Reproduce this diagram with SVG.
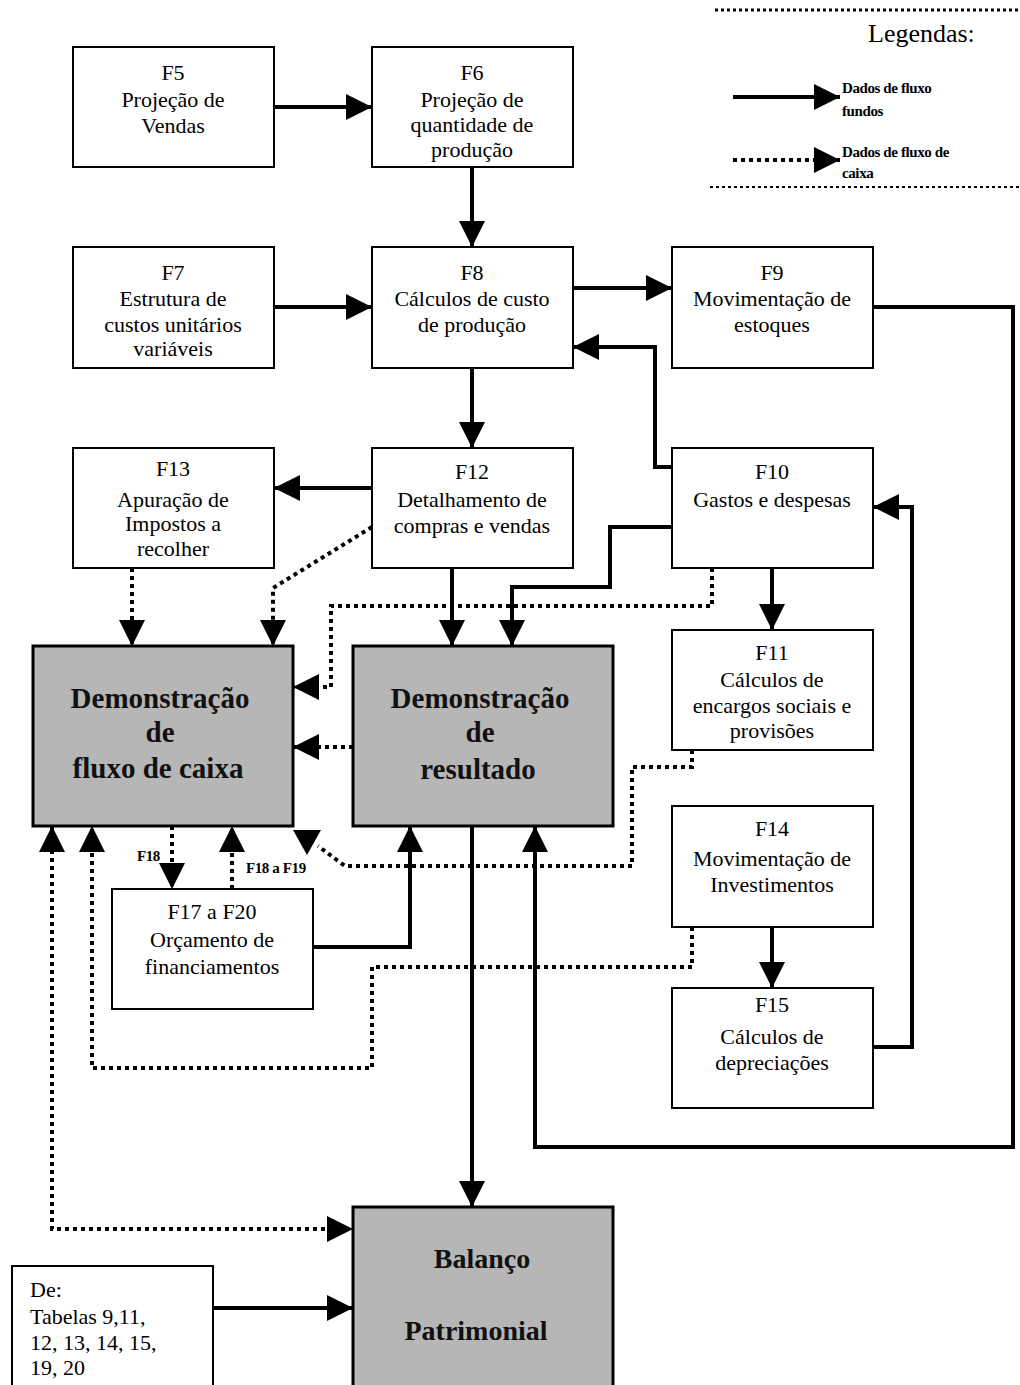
<svg xmlns="http://www.w3.org/2000/svg" width="1020" height="1385" viewBox="0 0 1020 1385">
<style>
.box{fill:#fff;stroke:#000;stroke-width:2}
.gbox{fill:#b6b6b6;stroke:#000;stroke-width:3}
.t{font-family:"Liberation Serif","Times New Roman",serif;font-size:22px;fill:#000;text-anchor:middle}
.b{font-family:"Liberation Serif","Times New Roman",serif;font-size:29px;font-weight:bold;fill:#111;text-anchor:middle}
.bp{font-family:"Liberation Serif","Times New Roman",serif;font-size:28px;font-weight:bold;fill:#111;text-anchor:middle}
.l{font-family:"Liberation Serif","Times New Roman",serif;font-size:22px;fill:#000}
.s{font-family:"Liberation Serif","Times New Roman",serif;font-size:15px;font-weight:bold;letter-spacing:-0.4px;fill:#000}
.sol{fill:none;stroke:#000;stroke-width:4}
.dot{fill:none;stroke:#000;stroke-width:4;stroke-dasharray:4 4}
</style>
<defs>
<marker id="ah" markerUnits="userSpaceOnUse" markerWidth="26" markerHeight="26" refX="24" refY="12" orient="auto-start-reverse" viewBox="0 0 24 24">
<path d="M0,0 L24,12 L0,24 Z" fill="#000"/>
</marker>
</defs>

<line x1="715" y1="10" x2="1020" y2="10" stroke="#000" stroke-width="3" stroke-dasharray="3 3"/>

<g id="legend">
<text x="868" y="42" style="font-family:'Liberation Serif',serif;font-size:26px">Legendas:</text>
<line x1="733" y1="97" x2="840" y2="97" class="sol" marker-end="url(#ah)"/>
<text x="842" y="93" class="s">Dados de fluxo</text>
<text x="842" y="116" class="s">fundos</text>
<line x1="733" y1="160" x2="840" y2="160" class="dot" marker-end="url(#ah)"/>
<text x="842" y="157" class="s">Dados de fluxo de</text>
<text x="842" y="178" class="s">caixa</text>
<line x1="710" y1="187" x2="1020" y2="187" stroke="#000" stroke-width="2" stroke-dasharray="3 3"/>
</g>

<g id="connectors">
<path class="sol" d="M274,107 H372" marker-end="url(#ah)"/>
<path class="sol" d="M472,167 V247" marker-end="url(#ah)"/>
<path class="sol" d="M274,307 H372" marker-end="url(#ah)"/>
<path class="sol" d="M573,288 H672" marker-end="url(#ah)"/>
<path class="sol" d="M672,467 H655 V347 H573" marker-end="url(#ah)"/>
<path class="sol" d="M472,368 V448" marker-end="url(#ah)"/>
<path class="sol" d="M372,488 H274" marker-end="url(#ah)"/>
<path class="sol" d="M452,568 V646" marker-end="url(#ah)"/>
<path class="sol" d="M672,527 H610 V587 H512 V646" marker-end="url(#ah)"/>
<path class="sol" d="M772,568 V630" marker-end="url(#ah)"/>
<path class="sol" d="M772,927 V988" marker-end="url(#ah)"/>
<path class="sol" d="M873,1047 H912 V507 H873" marker-end="url(#ah)"/>
<path class="sol" d="M873,307 H1013 V1147 H535 V826" marker-end="url(#ah)"/>
<path class="sol" d="M472,826 V1207" marker-end="url(#ah)"/>
<path class="sol" d="M313,947 H410 V826" marker-end="url(#ah)"/>
<path class="sol" d="M213,1308 H353" marker-end="url(#ah)"/>

<path class="dot" d="M132,568 V646" marker-end="url(#ah)"/>
<path class="dot" d="M372,527 L273,588 V646" marker-end="url(#ah)"/>
<path class="dot" d="M712,568 V606 H331 V687 H293" marker-end="url(#ah)"/>
<path class="dot" d="M353,747 H293" marker-end="url(#ah)"/>
<path class="dot" d="M692,750 V767 H632 V866 H345 L318,846"/>
<polygon points="293,830 321,830 307,855" fill="#000"/>
<path class="dot" d="M692,927 V967 H372 V1068 H92 V826" marker-end="url(#ah)"/>
<path class="dot" d="M52,826 V1229 H353" marker-start="url(#ah)" marker-end="url(#ah)"/>
<path class="dot" d="M172,826 V889" marker-end="url(#ah)"/>
<path class="dot" d="M232,889 V826" marker-end="url(#ah)"/>
<text x="137" y="861" class="s">F18</text>
<text x="246" y="873" class="s">F18 a F19</text>
</g>

<g id="F5"><rect class="box" x="73" y="47" width="201" height="120"/>
<text class="t" x="173" y="80">F5</text><text class="t" x="173" y="107">Projeção de</text><text class="t" x="173" y="133">Vendas</text></g>

<g id="F6"><rect class="box" x="372" y="47" width="201" height="120"/>
<text class="t" x="472" y="80">F6</text><text class="t" x="472" y="107">Projeção de</text><text class="t" x="472" y="132">quantidade de</text><text class="t" x="472" y="157">produção</text></g>

<g id="F7"><rect class="box" x="73" y="247" width="201" height="121"/>
<text class="t" x="173" y="280">F7</text><text class="t" x="173" y="306">Estrutura de</text><text class="t" x="173" y="332">custos unitários</text><text class="t" x="173" y="356">variáveis</text></g>

<g id="F8"><rect class="box" x="372" y="247" width="201" height="121"/>
<text class="t" x="472" y="280">F8</text><text class="t" x="472" y="306">Cálculos de custo</text><text class="t" x="472" y="332">de produção</text></g>

<g id="F9"><rect class="box" x="672" y="247" width="201" height="121"/>
<text class="t" x="772" y="280">F9</text><text class="t" x="772" y="306">Movimentação de</text><text class="t" x="772" y="332">estoques</text></g>

<g id="F13"><rect class="box" x="73" y="448" width="201" height="120"/>
<text class="t" x="173" y="476">F13</text><text class="t" x="173" y="507">Apuração de</text><text class="t" x="173" y="531">Impostos a</text><text class="t" x="173" y="556">recolher</text></g>

<g id="F12"><rect class="box" x="372" y="448" width="201" height="120"/>
<text class="t" x="472" y="479">F12</text><text class="t" x="472" y="507">Detalhamento de</text><text class="t" x="472" y="533">compras e vendas</text></g>

<g id="F10"><rect class="box" x="672" y="448" width="201" height="120"/>
<text class="t" x="772" y="479">F10</text><text class="t" x="772" y="507">Gastos e despesas</text></g>

<g id="DFC"><rect class="gbox" x="33" y="646" width="260" height="180"/>
<text class="b" x="160" y="708">Demonstração</text><text class="b" x="160" y="742">de</text><text class="b" x="158" y="778">fluxo de caixa</text></g>

<g id="DR"><rect class="gbox" x="353" y="646" width="260" height="180"/>
<text class="b" x="480" y="708">Demonstração</text><text class="b" x="480" y="742">de</text><text class="b" x="478" y="779">resultado</text></g>

<g id="F11"><rect class="box" x="672" y="630" width="201" height="120"/>
<text class="t" x="772" y="660">F11</text><text class="t" x="772" y="687">Cálculos de</text><text class="t" x="772" y="713">encargos sociais e</text><text class="t" x="772" y="738">provisões</text></g>

<g id="F14"><rect class="box" x="672" y="806" width="201" height="121"/>
<text class="t" x="772" y="836">F14</text><text class="t" x="772" y="866">Movimentação de</text><text class="t" x="772" y="892">Investimentos</text></g>

<g id="F15"><rect class="box" x="672" y="988" width="201" height="120"/>
<text class="t" x="772" y="1012">F15</text><text class="t" x="772" y="1044">Cálculos de</text><text class="t" x="772" y="1070">depreciações</text></g>

<g id="F17"><rect class="box" x="112" y="889" width="201" height="120"/>
<text class="t" x="212" y="919">F17 a F20</text><text class="t" x="212" y="947">Orçamento de</text><text class="t" x="212" y="974">financiamentos</text></g>

<g id="BP"><rect class="gbox" x="353" y="1207" width="260" height="190"/>
<text class="bp" x="482" y="1268">Balanço</text><text class="bp" x="476" y="1340">Patrimonial</text></g>

<g id="De"><rect class="box" x="12" y="1266" width="201" height="125"/>
<text class="l" x="30" y="1297">De:</text><text class="l" x="30" y="1324">Tabelas 9,11,</text><text class="l" x="30" y="1350">12, 13, 14, 15,</text><text class="l" x="30" y="1375">19, 20</text></g>
</svg>
